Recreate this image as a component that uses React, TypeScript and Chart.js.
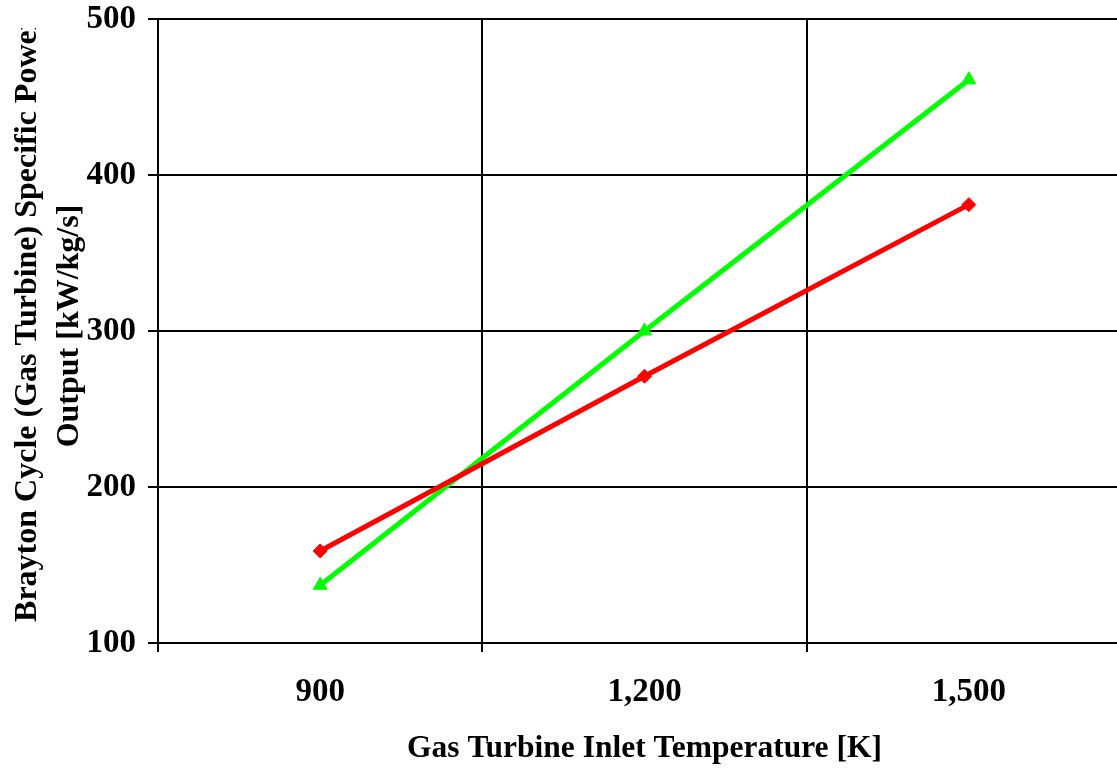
import React, { useEffect, useRef } from "react";
import { Chart, registerables } from "chart.js";

Chart.register(...registerables);

const categories = ["900", "1,200", "1,500"];
const redSeries = [159, 271, 381];
const greenSeries = [137, 300, 461];
const yTickValues = [100, 200, 300, 400, 500];
const xTitle = "Gas Turbine Inlet Temperature [K]";
const yTitleLines = ["Brayton Cycle (Gas Turbine) Specific Power", "Output [kW/kg/s]"];

const FONT_FAMILY = "'Liberation Serif', 'Times New Roman', serif";

const yTitlePlugin = {
  id: "yTitlePlugin",
  afterDraw(chart: any) {
    const ctx = chart.ctx;
    ctx.save();
    ctx.beginPath();
    ctx.rect(0, 28, 150, chart.height);
    ctx.clip();
    ctx.fillStyle = "#000";
    ctx.font = `bold 32px ${FONT_FAMILY}`;
    ctx.textAlign = "center";
    ctx.textBaseline = "alphabetic";
    const baselines = [36, 78];
    const centers = [319, 326];
    yTitleLines.forEach((line, i) => {
      ctx.save();
      ctx.translate(baselines[i], centers[i]);
      ctx.rotate(-Math.PI / 2);
      ctx.fillText(line, 0, 0);
      ctx.restore();
    });
    ctx.restore();
  },
};

export default function App() {
  const ref = useRef<HTMLCanvasElement | null>(null);

  useEffect(() => {
    if (!ref.current) return;
    const chart = new Chart(ref.current, {
      type: "line",
      data: {
        labels: categories,
        datasets: [
          {
            label: "Red",
            data: redSeries,
            borderColor: "#FF0000",
            backgroundColor: "#FF0000",
            borderWidth: 5,
            pointStyle: "rectRot",
            pointRadius: 7,
            pointBorderWidth: 1,
          },
          {
            label: "Green",
            data: greenSeries,
            borderColor: "#00FF00",
            backgroundColor: "#00FF00",
            borderWidth: 5,
            pointStyle: "triangle",
            pointRadius: 8,
            pointBorderWidth: 1,
          },
        ],
      },
      options: {
        animation: false,
        responsive: false,
        maintainAspectRatio: false,
        layout: { padding: { top: 19, right: 8, left: 0, bottom: 0 } },
        plugins: {
          legend: { display: false },
          tooltip: { enabled: false },
        },
        scales: {
          x: {
            type: "category",
            offset: true,
            grid: {
              offset: true,
              color: "#000",
              lineWidth: 2,
              tickLength: 9,
              drawTicks: true,
            },
            border: { color: "#000", width: 2 },
            ticks: {
              color: "#000",
              padding: 21,
              font: { family: FONT_FAMILY, size: 33, weight: "bold" },
            },
            title: {
              display: true,
              text: xTitle,
              color: "#000",
              padding: { top: 0, bottom: 1 },
              font: { family: FONT_FAMILY, size: 31.5, weight: "bold" },
            },
            afterFit(scale: any) {
              scale.height = 126;
              scale.paddingLeft = 0;
              scale.paddingRight = 0;
            },
          },
          y: {
            min: 100,
            max: 500,
            afterBuildTicks(scale: any) {
              scale.ticks = yTickValues.map((v) => ({ value: v }));
            },
            grid: {
              color: "#000",
              lineWidth: 2,
              tickLength: 10,
            },
            border: { color: "#000", width: 2 },
            ticks: {
              color: "#000",
              padding: 12,
              font: { family: FONT_FAMILY, size: 33, weight: "bold" },
            },
            afterFit(scale: any) {
              scale.width = 158;
              scale.paddingTop = 0;
              scale.paddingBottom = 0;
            },
          },
        },
      },
      plugins: [yTitlePlugin],
    });
    return () => chart.destroy();
  }, []);

  return (
    <div
      style={{
        position: "fixed",
        left: 0,
        top: 0,
        width: 1117,
        height: 769,
        overflow: "hidden",
        background: "#fff",
      }}
    >
      <canvas ref={ref} width={1140} height={769} style={{ display: "block" }} />
    </div>
  );
}
